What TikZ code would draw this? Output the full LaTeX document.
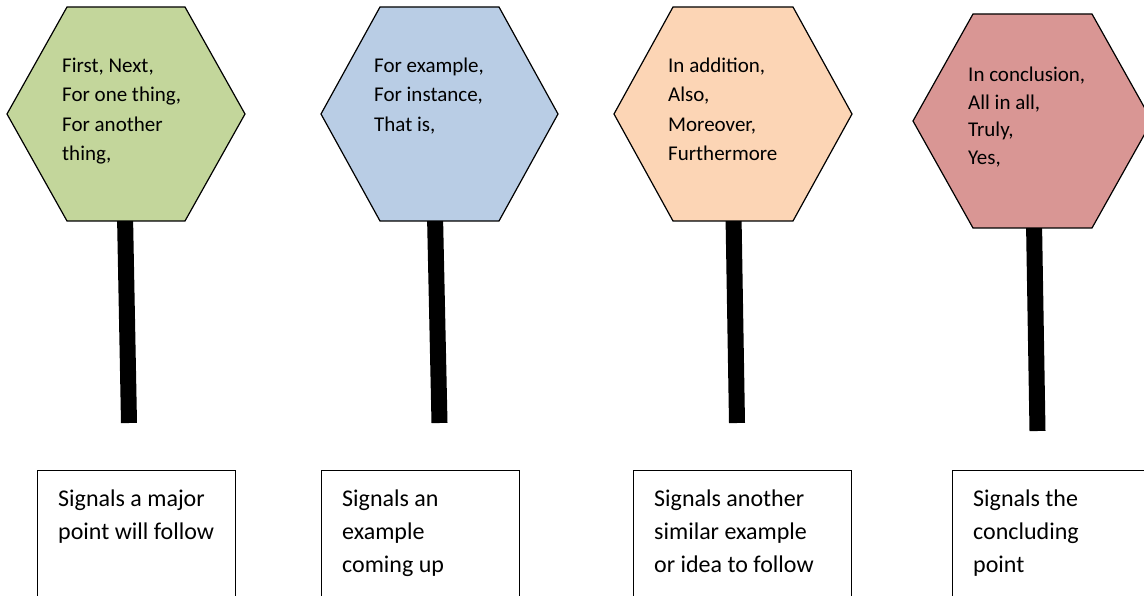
\documentclass[tikz,border=0pt]{standalone}
\usepackage{fontspec}
\setmainfont{Carlito}
\definecolor{hgreen}{HTML}{C3D69B}
\definecolor{hblue}{HTML}{B9CDE5}
\definecolor{horange}{HTML}{FCD5B5}
\definecolor{hred}{HTML}{D99694}
\newcommand{\hexfont}{\fontsize{21}{29.5}\selectfont}
\newcommand{\hexfonttight}{\fontsize{21}{27.5}\selectfont}
\newcommand{\boxfont}{\fontsize{24}{33}\selectfont}
\tikzset{
  hexagon/.style={draw=black, line width=1.2pt, line join=miter},
  stick/.style={line width=16pt, line cap=butt, draw=black},
  hextext/.style={anchor=north west, inner sep=0pt, align=left, font=\hexfont, execute at begin node=\strut},
  boxframe/.style={draw=black, line width=1.3pt, anchor=north west, inner sep=0pt},
  boxtext/.style={anchor=north west, inner sep=0pt, align=left, font=\boxfont, execute at begin node=\strut},
}
\begin{document}
\begin{tikzpicture}[x=1pt,y=-1pt]
\clip (0,0) rectangle (1144,596);
\fill[white] (0,0) rectangle (1144,596);

% sticks
\coordinate (s1t) at (125,215); \coordinate (s1b) at (129,423);
\coordinate (s2t) at (435,215); \coordinate (s2b) at (439.5,423);
\coordinate (s3t) at (733.5,215); \coordinate (s3b) at (737,423);
\coordinate (s4t) at (1034,222); \coordinate (s4b) at (1037.5,431);
\draw[stick] (s1t) -- (s1b);
\draw[stick] (s2t) -- (s2b);
\draw[stick] (s3t) -- (s3b);
\draw[stick] (s4t) -- (s4b);

% hexagons
\filldraw[hexagon, fill=hgreen] (67,7) -- (185,7) -- (245,114) -- (185,221) -- (67,221) -- (7,114) -- cycle;
\filldraw[hexagon, fill=hblue] (380,7) -- (499,7) -- (558,114) -- (499,221) -- (380,221) -- (321,114) -- cycle;
\filldraw[hexagon, fill=horange] (673,7) -- (793,7) -- (852,114) -- (793,221) -- (673,221) -- (614,114) -- cycle;
\filldraw[hexagon, fill=hred] (973,14) -- (1092,14) -- (1152,121) -- (1092,228) -- (973,228) -- (913,121) -- cycle;

\node[hextext] (t1) at (62,57.4) {First, Next,\\For one thing,\\For another\\thing,};
\node[hextext] (t2) at (374,57.4) {For example,\\For instance,\\That is,};
\node[hextext] (t3) at (668,57.4) {In addition,\\Also,\\Moreover,\\Furthermore};
\node[hextext, font=\hexfonttight] (t4) at (968,66.8) {In conclusion,\\All in all,\\Truly,\\Yes,};

% boxes
\node[boxframe, minimum width=198pt, minimum height=160pt] (b1) at (37,470) {};
\node[boxframe, minimum width=198pt, minimum height=160pt] (b2) at (321,470) {};
\node[boxframe, minimum width=218pt, minimum height=160pt] (b3) at (633,470) {};
\node[boxframe, minimum width=230pt, minimum height=160pt] (b4) at (952,470) {};

\node[boxtext] (l1) at ([xshift=21pt,yshift=-19.9pt]b1.north west) {Signals a major\\point will follow};
\node[boxtext] (l2) at ([xshift=21pt,yshift=-19.9pt]b2.north west) {Signals an\\example\\coming up};
\node[boxtext] (l3) at ([xshift=21pt,yshift=-19.9pt]b3.north west) {Signals another\\similar example\\or idea to follow};
\node[boxtext] (l4) at ([xshift=21pt,yshift=-19.9pt]b4.north west) {Signals the\\concluding\\point};
\end{tikzpicture}
\end{document}
